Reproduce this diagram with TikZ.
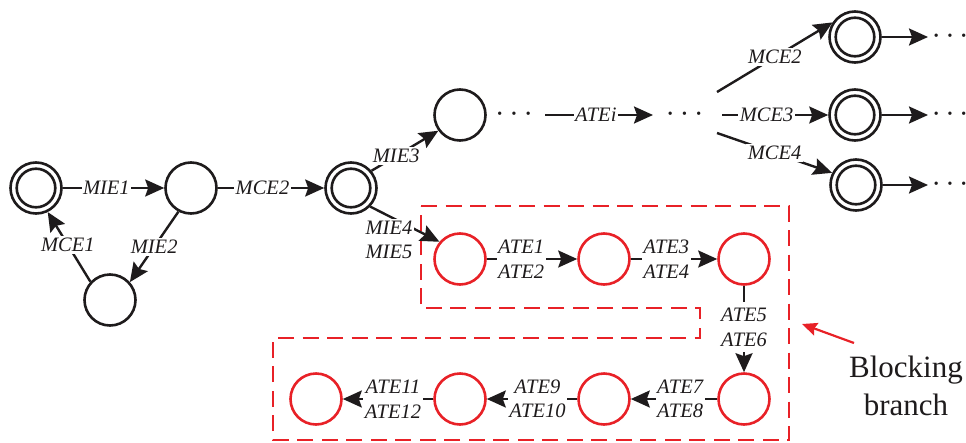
\documentclass[tikz,border=0pt]{standalone}
\usepackage{fontspec}
\setmainfont{Liberation Serif}
\usetikzlibrary{arrows.meta}
\definecolor{redc}{RGB}{232,33,39}
\definecolor{inkc}{RGB}{30,27,28}
\newcommand{\lblfont}{\fontsize{20.5}{24.5}\selectfont\itshape}
\begin{document}
\begin{tikzpicture}[x=1pt,y=-1pt,
  state/.style={circle,draw=inkc,line width=2.6pt,minimum size=51pt,inner sep=0pt},
  rstate/.style={state,draw=redc},
  dstate/.style={state,path picture={\draw[inkc,line width=2.6pt] (path picture bounding box.center) circle[radius=19.3pt];}},
  edge/.style={draw=inkc,line width=2.4pt,-{Stealth[length=19pt,width=17pt,inset=3pt]}},
  lbl/.style={font=\lblfont,text=inkc,fill=white,inner xsep=1.5pt,inner ysep=2pt,align=center},
  dotsn/.style={font=\fontsize{20.5}{24.5}\selectfont\bfseries,text=inkc,inner sep=0pt,anchor=base},
  box/.style={draw=redc,line width=2.6pt,dash pattern=on 16pt off 8.5pt}
]
\useasboundingbox (0,0) rectangle (966,442);

% blocking branch box
\draw[box] (421,206) -- (789,206) -- (789,440) -- (273,440) -- (273,338) -- (700,338) -- (700,308) -- (421,308) -- cycle;

% states
\node[dstate] (A) at (36,188) {};
\node[state] (B) at (191,188) {};
\node[state] (C) at (110,300) {};
\node[dstate] (D) at (351,188) {};
\node[state] (E) at (460,115) {};
\node[rstate] (F) at (460,259) {};
\node[rstate] (G) at (604,259) {};
\node[rstate] (H) at (744,259) {};
\node[rstate] (H2) at (744,399) {};
\node[rstate] (G2) at (604,399) {};
\node[rstate] (F2) at (460,399) {};
\node[rstate] (E2) at (316,399) {};
\node[dstate] (R1) at (855,37) {};
\node[dstate] (R2) at (855,115) {};
\node[dstate] (R3) at (856,185) {};

% dots
\node[dotsn] (dt1) at (514,120.2) {·\hspace{7.5pt}·\hspace{7.5pt}·};
\node[dotsn] (dt2) at (684.5,120.2) {·\hspace{7.5pt}·\hspace{7.5pt}·};
\node[dotsn] (dt3) at (950,42.2) {·\hspace{7pt}·\hspace{7pt}·};
\node[dotsn] (dt4) at (950,120.2) {·\hspace{7pt}·\hspace{7pt}·};
\node[dotsn] (dt5) at (950,190.2) {·\hspace{7pt}·\hspace{7pt}·};

% coordinates for free ends
\coordinate (ai1) at (545,115);
\coordinate (ai2) at (653,115);
\coordinate (f2) at (717,92);
\coordinate (f3) at (722,115);
\coordinate (f4) at (717,133);
\coordinate (o1) at (928,37);
\coordinate (o2) at (928,115);
\coordinate (o3) at (928,185);

% black edges
\draw[edge] (A.east) -- node[lbl,pos=0.43]{MIE1} (B.west);
\draw[edge] (B.east) -- node[lbl,pos=0.42]{MCE2} (D.west);
\draw[edge] (B.242) -- node[lbl,pos=0.5]{MIE2} (C.42);
\draw[edge] (C.137) -- node[lbl,pos=0.53]{MCE1} (A.-64);
\draw[edge] (D.40) -- node[lbl,pos=0.37]{MIE3} (E.216);
\draw[edge] (D.-44) -- (F.140);
\node[lbl] (l45) at (389,240) {MIE4\\MIE5};
\draw[edge] (ai1) -- node[lbl,pos=0.47]{ATEi} (ai2);
\draw[edge] (f2) -- node[lbl,pos=0.5]{MCE2} (R1.147);
\draw[edge] (f3) -- node[lbl,pos=0.42]{MCE3} (R2.west);
\draw[edge] (f4) -- node[lbl,pos=0.5]{MCE4} (R3.153);
\draw[edge] (R1.east) -- (o1);
\draw[edge] (R2.east) -- (o2);
\draw[edge] (R3.east) -- (o3);

% red chain edges
\draw[edge] (F.east) -- node[lbl,pos=0.38]{ATE1\\ATE2} (G.west);
\draw[edge] (G.east) -- node[lbl,pos=0.41]{ATE3\\ATE4} (H.west);
\draw[edge] (H.south) -- node[lbl,pos=0.48,inner ysep=6pt]{ATE5\\ATE6} (H2.north);
\draw[edge] (H2.west) -- node[lbl,pos=0.43]{ATE7\\ATE8} (G2.east);
\draw[edge] (G2.west) -- node[lbl,pos=0.44]{ATE9\\ATE10} (F2.east);
\draw[edge] (F2.west) -- node[lbl,pos=0.445]{ATE11\\ATE12} (E2.east);

% annotation
\node[font=\fontsize{31}{38}\selectfont,text=inkc,align=center,inner sep=0pt] (bb) at (906,386) {Blocking\\branch};
\coordinate (bt) at (854,343);
\coordinate (bh) at (802,324);
\draw[redc,line width=2.2pt,-{Stealth[length=15pt,width=13pt,inset=2pt]}] (bt) -- (bh);
\end{tikzpicture}
\end{document}
